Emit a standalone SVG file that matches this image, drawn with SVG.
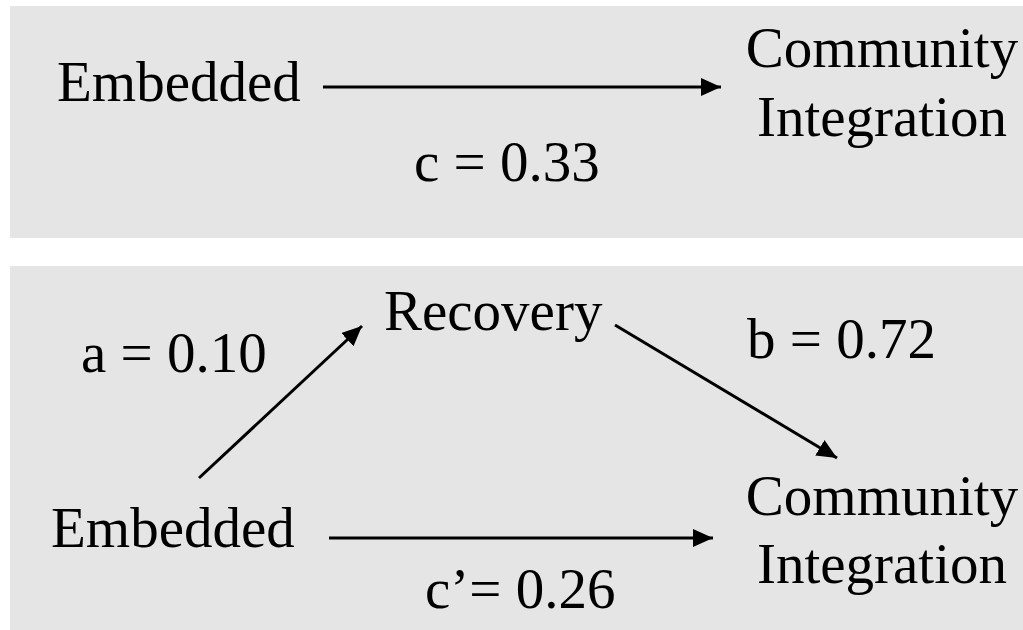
<svg xmlns="http://www.w3.org/2000/svg" width="1023" height="630" viewBox="0 0 1023 630">
<style>
.panel{fill:#e5e5e5}
text{font-family:"Liberation Serif","Times New Roman",serif;font-size:57px;fill:#000}
.c{stroke:#000;stroke-width:3;fill:none}
</style>
<defs>
<marker id="a" viewBox="0 0 20 18" refX="20" refY="9" markerWidth="20" markerHeight="18" markerUnits="userSpaceOnUse" orient="auto">
<path d="M0,0 L20,9 L0,18 z" fill="#000"/>
</marker>
</defs>
<rect class="panel" x="10" y="6" width="1013" height="232"/>
<rect class="panel" x="10" y="266" width="1013" height="364"/>
<g id="connectors">
<line class="c" x1="323" y1="87" x2="721" y2="87" marker-end="url(#a)"/>
<line class="c" x1="199" y1="478" x2="362" y2="326" marker-end="url(#a)"/>
<line class="c" x1="615" y1="325" x2="837" y2="458" marker-end="url(#a)"/>
<line class="c" x1="329" y1="538" x2="713" y2="538" marker-end="url(#a)"/>
</g>
<g id="top-embedded"><text x="57" y="101">Embedded</text></g>
<g id="top-ci"><text x="882" y="67" text-anchor="middle">Community</text><text x="882" y="136" text-anchor="middle">Integration</text></g>
<g id="label-c"><text x="414" y="181">c = 0.33</text></g>
<g id="recovery"><text x="384" y="330">Recovery</text></g>
<g id="label-a"><text x="81" y="372">a = 0.10</text></g>
<g id="label-b"><text x="747" y="358">b = 0.72</text></g>
<g id="bottom-embedded"><text x="51" y="547">Embedded</text></g>
<g id="bottom-ci"><text x="882" y="515" text-anchor="middle">Community</text><text x="882" y="583" text-anchor="middle">Integration</text></g>
<g id="label-cprime"><text x="425" y="608">c’= 0.26</text></g>
</svg>
